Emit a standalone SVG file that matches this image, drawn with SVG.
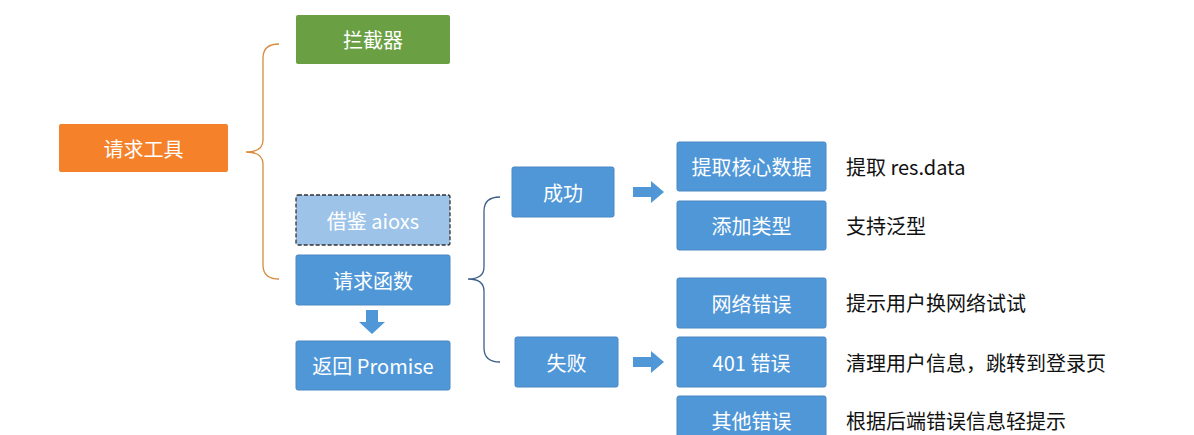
<svg xmlns="http://www.w3.org/2000/svg" width="1194" height="435" viewBox="0 0 1194 435">
<style>
text{font-family:"Noto Sans CJK SC","Noto Sans",sans-serif;font-size:20px;text-anchor:middle;dominant-baseline:central}
.w{fill:#fff}
.k{fill:#111;text-anchor:start}
.b{fill:#5097D8;stroke:#4A88C4;stroke-width:1}
.arr{fill:#5097D8}
</style>
<rect width="1194" height="435" fill="#fff"/>
<g id="tool"><rect x="59" y="124" width="169" height="48" rx="2" fill="#F5822A"/><text class="w" x="143.5" y="148">请求工具</text></g>
<g id="interceptor"><rect x="296" y="15" width="154" height="49" rx="2" fill="#6AA043"/><text class="w" x="373" y="39.5">拦截器</text></g>
<g id="aioxs"><rect x="296" y="195" width="154" height="50" rx="2" fill="#9DC3E8" stroke="#333" stroke-width="1.3" stroke-dasharray="4 2"/><text class="w" x="373" y="220">借鉴 aioxs</text></g>
<g id="fn"><rect class="b" x="296" y="255" width="154" height="50" rx="2"/><text class="w" x="373" y="280">请求函数</text></g>
<g id="promise"><rect class="b" x="296" y="341" width="154" height="49" rx="2"/><text class="w" x="373" y="365.5">返回 Promise</text></g>
<g id="success"><rect class="b" x="512" y="167" width="102" height="50" rx="2"/><text class="w" x="563" y="192">成功</text></g>
<g id="fail"><rect class="b" x="515" y="337" width="103" height="50" rx="2"/><text class="w" x="566.5" y="362">失败</text></g>
<g id="s1"><rect class="b" x="677" y="142" width="149" height="49" rx="2"/><text class="w" x="751.5" y="166.5">提取核心数据</text><text class="k" x="846" y="166">提取 res.data</text></g>
<g id="s2"><rect class="b" x="677" y="201" width="149" height="49" rx="2"/><text class="w" x="751.5" y="225.5">添加类型</text><text class="k" x="846" y="225">支持泛型</text></g>
<g id="f1"><rect class="b" x="677" y="278" width="149" height="50" rx="2"/><text class="w" x="751.5" y="303">网络错误</text><text class="k" x="846" y="302">提示用户换网络试试</text></g>
<g id="f2"><rect class="b" x="677" y="337" width="149" height="50" rx="2"/><text class="w" x="751.5" y="362">401 错误</text><text class="k" x="846" y="362">清理用户信息，跳转到登录页</text></g>
<g id="f3"><rect class="b" x="677" y="396" width="149" height="48" rx="2"/><text class="w" x="751.5" y="420">其他错误</text><text class="k" x="846" y="420">根据后端错误信息轻提示</text></g>
<g id="connectors">
<path d="M279 44 Q263 44 263 58 V140 Q263 152 246 152 Q263 152 263 164 V265 Q263 279 279 279" fill="none" stroke="#D98A3E" stroke-width="1.3"/>
<path d="M500 197 Q484 197 484 211 V267 Q484 279 468 279 Q484 279 484 291 V348 Q484 362 500 362" fill="none" stroke="#3E5F8A" stroke-width="1.3"/>
<path class="arr" d="M366 310 H378 V322 H385 L372 334 L359 322 H366 Z"/>
<path class="arr" d="M633 187 H651 V181 L664 192 L651 203 V197 H633 Z"/>
<path class="arr" d="M633 357 H651 V351 L664 362 L651 373 V367 H633 Z"/>
</g>
</svg>
